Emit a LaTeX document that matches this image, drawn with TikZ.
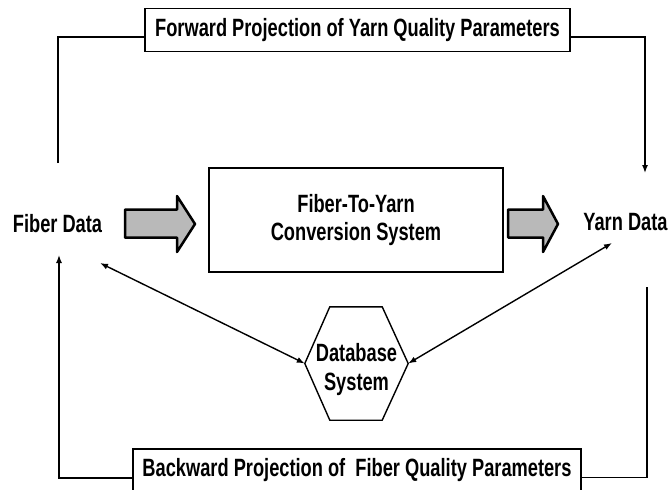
\documentclass[tikz,border=0pt]{standalone}
\usepackage{fontspec}
\setmainfont[FakeStretch=0.73]{Liberation Sans}
\usetikzlibrary{arrows.meta}
\tikzset{
  caja/.style={draw, line width=1.4pt, font=\bfseries\fontsize{25}{28}\selectfont, align=center, inner sep=0pt},
  texto/.style={font=\bfseries\fontsize{25}{29}\selectfont, align=center, inner sep=0pt},
  linea/.style={line width=1.4pt},
  flecha/.style={line width=1.4pt, -{Latex[length=8pt,width=6pt]}},
  dflecha/.style={line width=1.4pt, {Latex[length=8pt,width=6pt]}-{Latex[length=8pt,width=6pt]}},
  bloque/.style={draw, line width=2.5pt, fill=gray!55, line join=round}
}

\begin{document}
\begin{tikzpicture}[x=1pt,y=-1pt]
        \useasboundingbox (0,0) rectangle (670,490);
        \clip (0,0) rectangle (670,490);
        % Cajas de proyeccion
        \node[caja, minimum width=425pt, minimum height=43pt] (fwd) at (357.5,30) {Forward Projection of Yarn Quality Parameters};
        \node[caja, minimum width=448pt, minimum height=43pt] (bwd) at (357,470.5) {Backward Projection of\ \ Fiber Quality Parameters};
        % Sistema central
        \node[caja, line width=1.8pt, minimum width=294pt, minimum height=104pt] (conv) at (356,220) {Fiber-To-Yarn\\Conversion System};
        \node[texto] (fiber) at (57.5,224) {Fiber Data};
        \node[texto] (yarn) at (625.5,222) {Yarn Data};
        % Hexagono (base de datos), texto un poco bajo
        \node[texto, minimum width=103pt, minimum height=113pt] (db) at (356.5,369.5) {Database\\System};
        \draw[linea] ([yshift=6pt]db.west) -- ([xshift=25pt,yshift=6pt]db.north west) -- ([xshift=-26pt,yshift=6pt]db.north east)
          -- ([yshift=6pt]db.east) -- ([xshift=-26pt,yshift=6pt]db.south east) -- ([xshift=25pt,yshift=6pt]db.south west) -- cycle;
        % Flechas grises
        \draw[bloque] (125,209.5) -- (177,209.5) -- (177,196) -- (195,224) -- (177,252) -- (177,237.5) -- (125,237.5) -- cycle;
        \draw[bloque] (508,209.5) -- (543,209.5) -- (543,196) -- (558,224) -- (543,252) -- (543,237.5) -- (508,237.5) -- cycle;
        % Conectores
        \coordinate (fup) at (58,163);
        \coordinate (ydown) at (645,173);
        \coordinate (fdown) at (59,255);
        \coordinate (yup) at (647,287);
        \coordinate (flink) at (100,263);
        \coordinate (ylink) at (612,243);
        \draw[linea] (fup) |- ([yshift=-7pt]fwd.west);
        \draw[flecha] ([yshift=-7pt]fwd.east) -| (ydown);
        \draw[flecha] ([yshift=-7.5pt]bwd.west) -| (fdown);
        \draw[linea] ([yshift=-7pt]bwd.east) -| (yup);
        \draw[dflecha] (flink) -- ([yshift=6pt]db.west);
        \draw[dflecha] (ylink) -- ([yshift=6pt]db.east);
    \end{tikzpicture}
\end{document}
